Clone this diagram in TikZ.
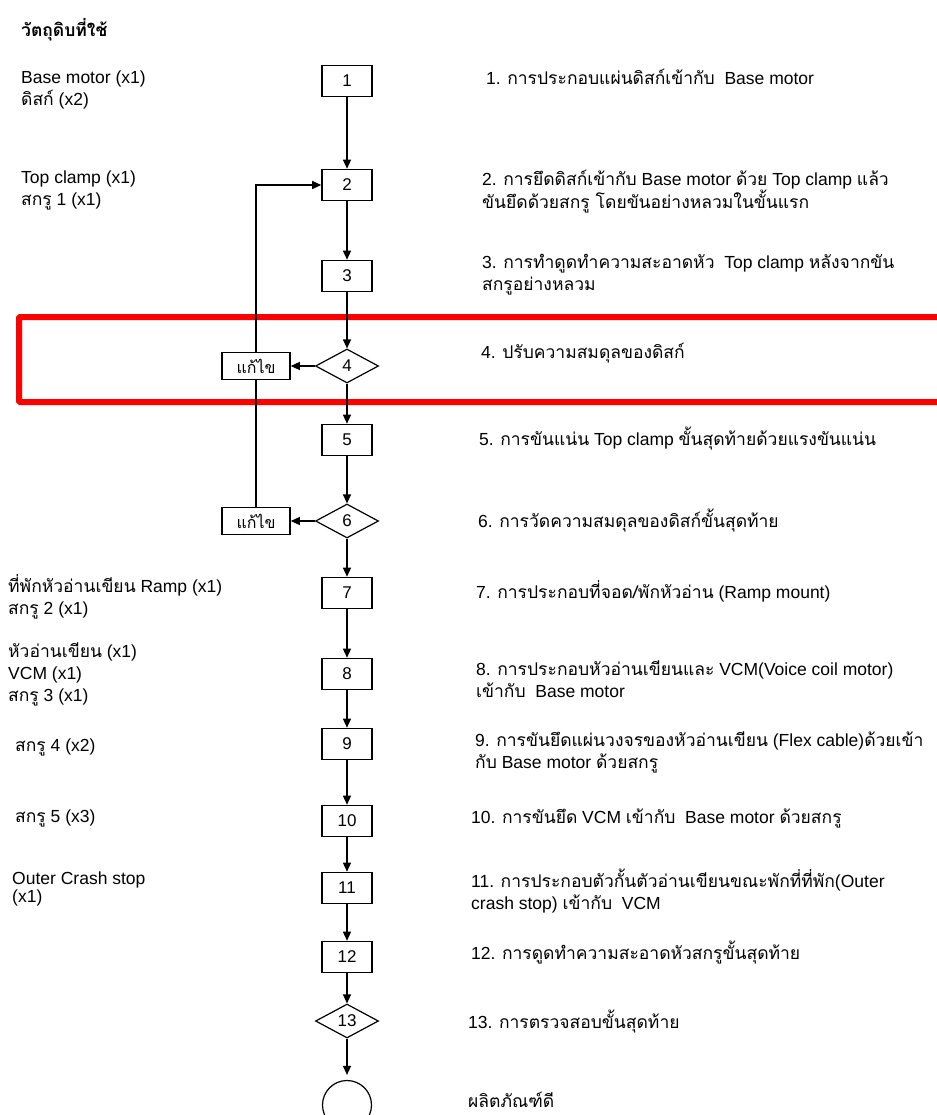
\documentclass[tikz,border=0pt]{standalone}
\usepackage{fontspec}
\setmainfont{Liberation Sans}
\newfontfamily\thaifont[Script=Thai]{Loma}
\newcommand\tht[1]{{\thaifont #1}}
\usetikzlibrary{shapes.geometric,arrows.meta}
\begin{document}
\begin{tikzpicture}[x=1pt,y=-1pt,
  txt/.style={anchor=west,align=left,inner sep=0pt,font=\fontsize{17.5}{22}\selectfont},
  stepbox/.style={draw,line width=1.6pt,minimum width=50pt,minimum height=31pt,inner sep=0pt,font=\fontsize{17}{20}\selectfont},
  decision/.style={draw,diamond,line width=1.2pt,minimum width=63pt,minimum height=34pt,inner sep=0pt,font=\fontsize{17}{20}\selectfont},
  fixbox/.style={draw,line width=1.6pt,minimum width=68pt,minimum height=27pt,inner sep=0pt,font=\fontsize{16}{20}\selectfont},
  endnode/.style={draw,circle,line width=1.2pt,minimum size=49pt,inner sep=0pt},
  flow/.style={line width=1.3pt,-{Triangle[length=9pt,width=8pt]}},
  plain/.style={line width=1.3pt}
]
\useasboundingbox (0,0) rectangle (936,1115);

% highlight
\draw[red,line width=6pt,rounded corners=1pt] (19,317) rectangle (950,402);

% flow nodes
\node[stepbox] (n1) at (347,81) {1};
\node[stepbox] (n2) at (347,185) {2};
\node[stepbox] (n3) at (347,276) {3};
\node[decision] (d4) at (347,366) {4};
\node[stepbox] (n5) at (347,440) {5};
\node[decision] (d6) at (347,521) {6};
\node[stepbox] (n7) at (347,593) {7};
\node[stepbox] (n8) at (347,674) {8};
\node[stepbox] (n9) at (347,744) {9};
\node[stepbox] (n10) at (347,821) {10};
\node[stepbox] (n11) at (347,888) {11};
\node[stepbox] (n12) at (347,957) {12};
\node[decision] (d13) at (347,1021) {13};
\node[endnode] (end) at (347,1105) {};
\node[fixbox] (f4) at (256,366) {\tht{แก้ไข}};
\node[fixbox] (f6) at (256,521) {\tht{แก้ไข}};

% connectors
\draw[flow] (n1) -- (n2);
\draw[flow] (n2) -- (n3);
\draw[flow] (n3) -- (d4);
\draw[flow] (d4) -- (n5);
\draw[flow] (n5) -- (d6);
\draw[flow] (d6) -- (n7);
\draw[flow] (n7) -- (n8);
\draw[flow] (n8) -- (n9);
\draw[flow] (n9) -- (n10);
\draw[flow] (n10) -- (n11);
\draw[flow] (n11) -- (n12);
\draw[flow] (n12) -- (d13);
\draw[flow,shorten >=5pt] (d13) -- (end);
\draw[flow] (d4) -- (f4);
\draw[flow] (d6) -- (f6);
\draw[plain] (f6) -- (f4);
\draw[flow] (f4.north) |- (n2.west);

% materials (left)
\node[txt,font=\fontsize{17.5}{22}\selectfont\bfseries] (title) at (21,30) {\tht{วัตถุดิบที่ใช้}};
\node[txt] (m1) at (21,89.5) {Base motor (x1)\\\tht{ดิสก์} (x2)};
\node[txt] (m2) at (21,190) {Top clamp (x1)\\\tht{สกรู} 1 (x1)};
\node[txt] (m3) at (8,596.5) {\tht{ที่พักหัวอ่านเขียน} Ramp (x1)\\\tht{สกรู} 2 (x1)};
\node[txt] (m4) at (8,674) {\tht{หัวอ่านเขียน} (x1)\\VCM (x1)\\\tht{สกรู} 3 (x1)};
\node[txt] (m5) at (15,747) {\tht{สกรู} 4 (x2)};
\node[txt] (m6) at (15,818) {\tht{สกรู} 5 (x3)};
\node[txt,font=\fontsize{17.5}{14}\selectfont] (m7) at (12,889) {Outer Crash stop\\(x1)};

% steps (right)
\node[txt] (s1) at (486,77) {1. \tht{การประกอบแผ่นดิสก์เข้ากับ}\ \ Base motor};
\node[txt] (s2) at (482,192) {2. \tht{การยึดดิสก์เข้ากับ} Base motor \tht{ด้วย} Top clamp \tht{แล้ว}\\\tht{ขันยึดด้วยสกรู โดยขันอย่างหลวมในขั้นแรก}};
\node[txt] (s3) at (482,274.5) {3. \tht{การทำดูดทำความสะอาดหัว}\ \ Top clamp \tht{หลังจากขัน}\\\tht{สกรูอย่างหลวม}};
\node[txt] (s4) at (481,353) {4. \tht{ปรับความสมดุลของดิสก์}};
\node[txt] (s5) at (479,439) {5. \tht{การขันแน่น} Top clamp \tht{ขั้นสุดท้ายด้วยแรงขันแน่น}};
\node[txt] (s6) at (478,521) {6. \tht{การวัดความสมดุลของดิสก์ขั้นสุดท้าย}};
\node[txt] (s7) at (476,591) {7. \tht{การประกอบที่จอด/พักหัวอ่าน} (Ramp mount)};
\node[txt] (s8) at (476,679) {8. \tht{การประกอบหัวอ่านเขียนและ} VCM(Voice coil motor)\\\tht{เข้ากับ}\ \ Base motor};
\node[txt] (s9) at (475,752) {9. \tht{การขันยึดแผ่นวงจรของหัวอ่านเขียน} (Flex cable)\tht{ด้วยเข้า}\\\tht{กับ} Base motor \tht{ด้วยสกรู}};
\node[txt] (s10) at (471,818) {10. \tht{การขันยึด} VCM \tht{เข้ากับ}\ \ Base motor \tht{ด้วยสกรู}};
\node[txt] (s11) at (471,891.5) {11. \tht{การประกอบตัวกั้นตัวอ่านเขียนขณะพักที่ที่พัก}(Outer\\crash stop) \tht{เข้ากับ}\ \ VCM};
\node[txt] (s12) at (471,952) {12. \tht{การดูดทำความสะอาดหัวสกรูขั้นสุดท้าย}};
\node[txt] (s13) at (468,1021) {13. \tht{การตรวจสอบขั้นสุดท้าย}};
\node[txt] (s14) at (468,1100) {\tht{ผลิตภัณฑ์ดี}};
\end{tikzpicture}
\end{document}
